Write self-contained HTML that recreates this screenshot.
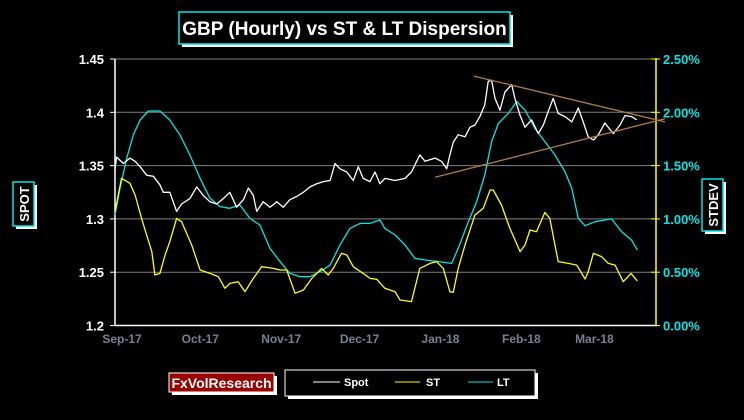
<!DOCTYPE html>
<html><head><meta charset="utf-8"><style>
html,body{margin:0;padding:0;background:#000;}
svg{display:block;font-family:"Liberation Sans",Arial,sans-serif;}
</style></head><body>
<svg id="chart" width="744" height="420" viewBox="0 0 744 420">
<rect width="744" height="420" fill="#000"/>
<g>
<rect x="182" y="15" width="331" height="32" fill="#fff"/>
<rect x="179" y="12" width="331" height="32" fill="#000" stroke="#00e5e5" stroke-width="1.5"/>
<text x="344.5" y="35" text-anchor="middle" fill="#fff" font-size="19" font-weight="bold">GBP (Hourly) vs ST &amp; LT Dispersion</text>
</g>
<g id="grid"></g>
<g id="axes"></g>
<g id="series"></g>
<g>
<rect x="16" y="185" width="21" height="44" fill="#fff"/>
<rect x="13" y="182" width="21" height="44" fill="#000" stroke="#00e5e5" stroke-width="1.5"/>
<text transform="translate(29,204) rotate(-90)" text-anchor="middle" fill="#fff" font-size="13" font-weight="bold">SPOT</text>
</g>
<g>
<rect x="705" y="182" width="21" height="52" fill="#fff"/>
<rect x="702" y="179" width="21" height="52" fill="#000" stroke="#00e5e5" stroke-width="1.5"/>
<text transform="translate(718,205) rotate(-90)" text-anchor="middle" fill="#fff" font-size="13" font-weight="bold">STDEV</text>
</g>
<g>
<rect x="172" y="376" width="105" height="19" fill="#fff"/>
<rect x="169" y="373" width="105" height="19" fill="#990000" stroke="#fff" stroke-width="1"/>
<text x="221.5" y="388" text-anchor="middle" fill="#fff" font-size="14" font-weight="bold">FxVolResearch</text>
</g>
<g>
<rect x="288" y="373" width="250" height="26" fill="#fff"/>
<rect x="285" y="370" width="250" height="26" fill="#000" stroke="#fff" stroke-width="1"/>
<g><line x1="313" y1="382" x2="340" y2="382" stroke="#fff"/><text x="344" y="386" fill="#fff" font-size="11" font-weight="bold">Spot</text></g>
<g><line x1="395" y1="382" x2="420" y2="382" stroke="#ffff00"/><text x="426" y="386" fill="#fff" font-size="11" font-weight="bold">ST</text></g>
<g><line x1="468" y1="382" x2="493" y2="382" stroke="#00e5e5"/><text x="497" y="386" fill="#fff" font-size="11" font-weight="bold">LT</text></g>
</g>
</svg>
<script>
const spotDays=[0,0.6,3.2,5.7,7.7,9.6,12.1,14.7,17.2,18.5,21,23.6,25.5,28.7,31.3,33.8,36.4,39,41.5,44,46.6,49.2,51.1,53,54.3,56.8,59.4,62,64.5,67,69.6,72.2,74.7,77.3,79.8,82.4,84.3,86.2,88.8,91.3,93.2,95.1,97.7,99.6,101.5,103.4,107.3,111.1,113.6,116.8,118.8,122.6,125.1,127.1,128.3,129.6,131.5,134.1,136,137.9,139.8,141.7,143,144.3,145.6,147.5,149.4,152,153.2,155.2,157.1,159.6,162.2,164.1,166,167.9,169.8,172.4,175,177.5,179.4,181.3,183.3,185.2,187.7,190.9,193.5,195.4,197.9,199.9];
const spotValues=[1.347,1.358,1.352,1.357,1.354,1.349,1.341,1.340,1.332,1.325,1.325,1.307,1.314,1.319,1.330,1.322,1.316,1.314,1.319,1.325,1.311,1.318,1.329,1.322,1.307,1.316,1.311,1.316,1.311,1.318,1.321,1.325,1.330,1.333,1.335,1.336,1.352,1.347,1.344,1.336,1.349,1.338,1.335,1.344,1.333,1.338,1.336,1.338,1.344,1.360,1.354,1.357,1.354,1.347,1.360,1.372,1.379,1.377,1.386,1.388,1.396,1.407,1.429,1.430,1.413,1.402,1.419,1.426,1.413,1.397,1.386,1.393,1.380,1.388,1.401,1.413,1.399,1.396,1.391,1.404,1.391,1.377,1.374,1.379,1.390,1.380,1.388,1.397,1.396,1.393];
const ltDays=[0,1.9,4.5,7,9.6,12.8,17.2,21,24.9,28.7,32.6,36.4,40.2,44,47.9,51.7,55.5,59.4,63.2,67,70.9,74.7,78.5,82.4,86.2,90,93.9,97.7,101.5,103.4,107.3,111.1,114.9,118.8,123.9,129,131.5,135.4,138.6,141.7,144.3,146.9,150.7,153.9,157.1,160.9,164.7,168.6,172.4,175,177.5,180.1,183.9,187.7,190.3,194.1,197.9,200.1];
const ltValues=[1.036,1.287,1.568,1.787,1.928,2.012,2.012,1.928,1.787,1.599,1.381,1.193,1.115,1.099,1.130,1.005,0.943,0.724,0.599,0.489,0.458,0.458,0.505,0.567,0.755,0.911,0.958,0.958,0.990,0.911,0.849,0.755,0.630,0.614,0.599,0.583,0.724,0.974,1.162,1.412,1.725,1.896,1.990,2.100,2.022,1.850,1.725,1.599,1.443,1.287,1.005,0.936,0.974,0.990,0.999,0.880,0.802,0.708];
const stDays=[0,2.5,5.7,7.7,10.2,12.1,14.1,15.3,17.2,19.2,21,23.6,25.5,29.4,32.6,36.4,39.6,42.1,44,47.2,49.8,53,56.2,60.7,63.2,65.8,69,72.2,75.4,79.2,81.7,83.6,86.8,88.8,91.3,95.1,97.7,100.3,103.4,107.3,109.2,113.6,116.8,120.7,123.2,125.8,128.3,129.6,131.5,134.1,137.9,141.1,143.7,144.9,148.1,151.3,155.2,157.1,159,161.5,164.7,166.6,169.8,173.7,176.9,180.1,181.3,183.3,186.4,189,191.6,194.7,197.7,200.1];
const stValues=[1.068,1.381,1.334,1.224,1.005,0.849,0.693,0.474,0.489,0.661,0.786,1.005,0.974,0.755,0.521,0.489,0.458,0.349,0.395,0.411,0.317,0.442,0.552,0.536,0.521,0.521,0.302,0.333,0.442,0.536,0.474,0.536,0.677,0.661,0.552,0.489,0.442,0.433,0.349,0.317,0.239,0.224,0.536,0.583,0.599,0.536,0.317,0.311,0.536,0.755,1.036,1.099,1.271,1.271,1.130,0.911,0.693,0.755,0.896,0.880,1.061,1.005,0.599,0.583,0.567,0.436,0.505,0.677,0.646,0.583,0.567,0.411,0.489,0.417];
const leftTicks=[1.2,1.25,1.3,1.35,1.4,1.45];
const leftTickLabels=["1.2","1.25","1.3","1.35","1.4","1.45"];
const rightTicks=[0,0.5,1,1.5,2,2.5];
const rightTickLabels=["0.00%","0.50%","1.00%","1.50%","2.00%","2.50%"];
const monthDays=[0,30,61,91,122,153,181];
const monthLabels=["Sep-17","Oct-17","Nov-17","Dec-17","Jan-18","Feb-18","Mar-18"];
const trendUpperDays=[137.5,210.7];
const trendUpperValues=[1.434,1.391];
const trendLowerDays=[122.6,210.7];
const trendLowerValues=[1.339,1.394];

const NS="http://www.w3.org/2000/svg";
const X0=115,PXD=2.61,YT=59,YB=325.5,XR=656;
const xs=d=>X0+d*PXD;
const yl=v=>YB-(v-1.2)/0.25*(YB-YT);
const yr=v=>YB-v/2.5*(YB-YT);
function mk(tag,attrs,parent){const e=document.createElementNS(NS,tag);for(const k in attrs)e.setAttribute(k,attrs[k]);parent.appendChild(e);return e;}
const grid=document.getElementById('grid'),axes=document.getElementById('axes'),series=document.getElementById('series');
leftTicks.forEach((t,i)=>{
  const y=yl(t);
  if(i>0){const g=mk('line',{x1:X0,x2:XR,y1:y,y2:y,stroke:'#808080','stroke-width':1},grid);
  
  }
  const tk=mk('line',{x1:X0-5,x2:X0,y1:y,y2:y,stroke:'#fff','stroke-width':1},axes);
  
  
  const tx=mk('text',{x:104,y:y+5,'text-anchor':'end',fill:'#fff','font-size':13,'font-weight':'bold'},axes);
  tx.textContent=leftTickLabels[i];
  
  
});
rightTicks.forEach((t,i)=>{
  const y=yr(t);
  const tk=mk('line',{x1:XR-5,x2:XR+4,y1:y,y2:y,stroke:'#ffff00','stroke-width':1},axes);
  
  
  const tx=mk('text',{x:663,y:y+5,fill:'#00e5e5','font-size':13,'font-weight':'bold'},axes);
  tx.textContent=rightTickLabels[i];
  
  
});
let a=mk('line',{x1:X0,x2:X0,y1:YT,y2:YB,stroke:'#fff','stroke-width':1.5},axes);


a=mk('line',{x1:XR,x2:XR,y1:YT-1,y2:YB+1,stroke:'#ffff00','stroke-width':1.5},axes);


a=mk('line',{x1:X0,x2:XR,y1:YB,y2:YB,stroke:'#fff','stroke-width':1.5},axes);


monthDays.forEach((d,i)=>{
  const tx=mk('text',{x:xs(d)+7,y:343,'text-anchor':'middle',fill:'#7a7f92','font-size':12,'font-weight':'bold'},axes);
  tx.textContent=monthLabels[i];
  
  
});
function line(days,vals,yf,color,w,name){
  const p=mk('polyline',{points:days.map((d,i)=>xs(d).toFixed(1)+','+yf(vals[i]).toFixed(1)).join(' '),fill:'none',stroke:color,'stroke-width':w,'stroke-linejoin':'round'},series);
  
  
}
line(ltDays,ltValues,yr,'#00e5e5',1.3,'lt-line');
line(stDays,stValues,yr,'#ffff00',1.3,'st-line');
line(spotDays,spotValues,yl,'#ffffff',1.3,'spot-line');
line(trendUpperDays,trendUpperValues,yl,'#b07a45',1.3,'upper-trendline');
line(trendLowerDays,trendLowerValues,yl,'#b07a45',1.3,'lower-trendline');
</script>
</body></html>
